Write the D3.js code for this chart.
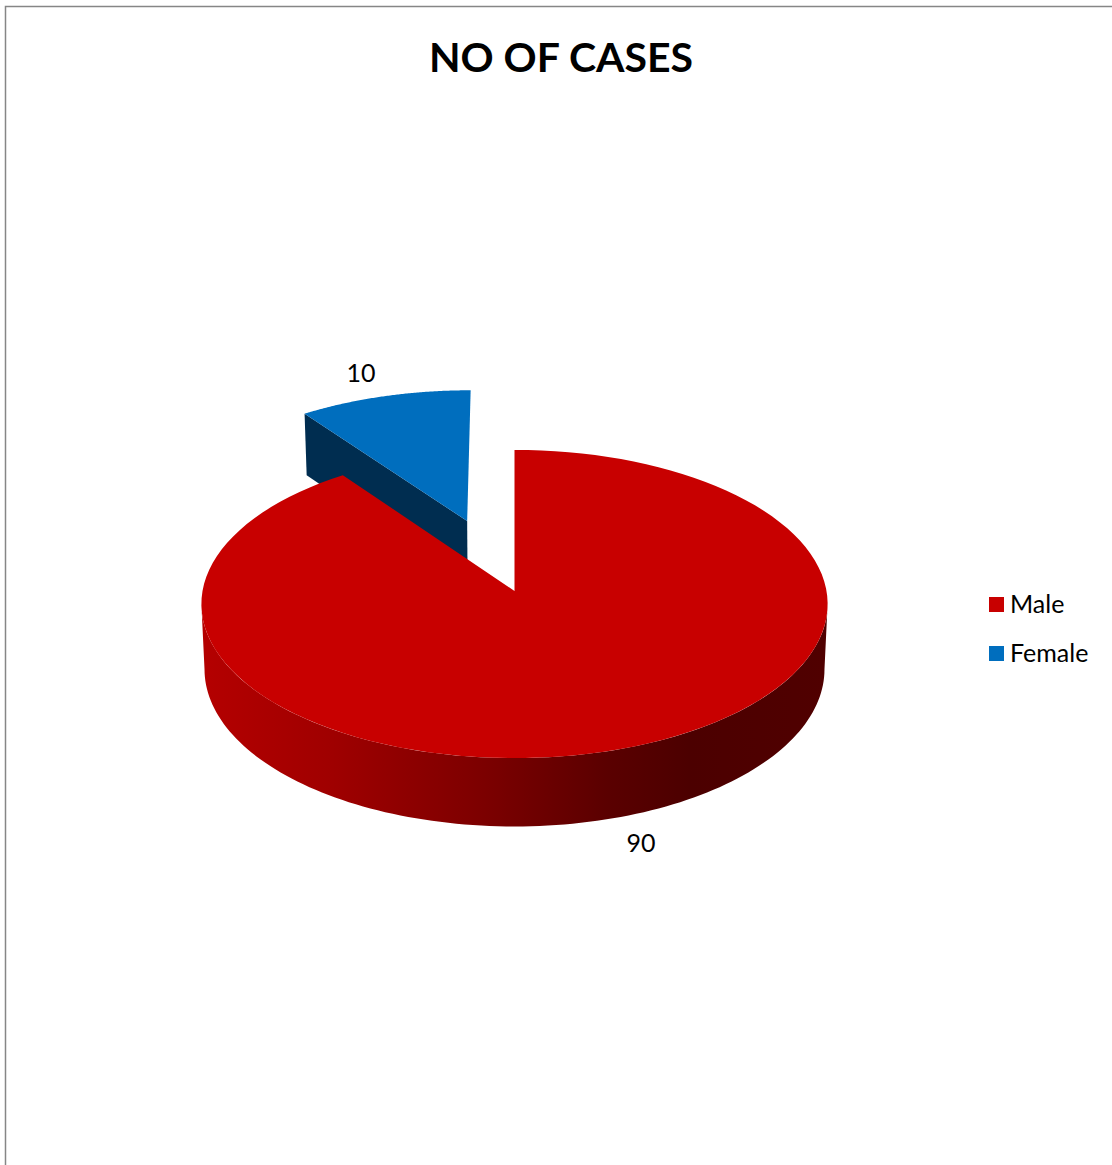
<!DOCTYPE html>
<html>
<head>
<meta charset="utf-8">
<script src="https://cdn.jsdelivr.net/npm/d3@7/dist/d3.min.js"></script>
<style>
html, body { margin: 0; padding: 0; background: #fff; }
svg { display: block; }
text { font-family: Lato, "Open Sans", sans-serif; fill: #000; }
</style>
</head>
<body>
<svg id="chart" width="1112" height="1165"></svg>
<script>
const categories = ["Male", "Female"];
const cases = [90, 10];
const explode = [0, 0.5];
const topColors = ["#c80000", "#006ebe"];
const cutColors = ["#7a0000", "#002d50"];
const chartTitle = "NO OF CASES";

const W = 1112, H = 1165;
const svg = d3.select("#chart");

// Pie apex on screen and the size of the tilted disc
const apex = { x: 514.5, y: 591 };
const radiusX = 312, radiusY = 153, tilt = 0.0845;
// Lower face of the disc relative to the upper one
const drop = 65, lowerScaleX = 0.99, lowerScaleY = 1.02;

// Perspective projection of a ground-plane point; level 0 = top face, 1 = bottom face
function project(u, v, level) {
  const d = 1 - tilt * v;
  const X = u * radiusX / d, Y = v * radiusY / d;
  return level
    ? [apex.x + X * lowerScaleX, apex.y + Y * lowerScaleY + drop]
    : [apex.x + X, apex.y + Y];
}
// Point at angle a and radius r of a slice pushed out by off along its mid angle
function polar(a, r, off, mid, level) {
  const u = r * Math.sin(a) + off * Math.sin(mid);
  const v = -r * Math.cos(a) - off * Math.cos(mid);
  return project(u, v, level);
}

const pie = d3.pie().sort(null).value(d => d)(cases);
const line = d3.line();
const angleSteps = (a0, a1) => d3.range(0, 121).map(i => a0 + (a1 - a0) * i / 120);

const defs = svg.append("defs");
const grad = defs.append("linearGradient")
  .attr("id", "wallShade").attr("gradientUnits", "userSpaceOnUse")
  .attr("x1", 203).attr("x2", 827).attr("y1", 0).attr("y2", 0);
[[0, "#b40000"], [0.2, "#a00000"], [0.45, "#7c0000"], [0.65, "#5a0000"], [0.78, "#4c0000"], [1, "#500000"]]
  .forEach(([o, c]) => grad.append("stop").attr("offset", o).attr("stop-color", c));

// Chart frame: only the top and left edges fall on the page
svg.append("path")
  .attr("d", line([[5.5, H], [5.5, 6.5], [W, 6.5]]))
  .attr("fill", "none").attr("stroke", "#868686").attr("stroke-width", 1.5);

svg.append("text").attr("x", 561).attr("y", 72)
  .attr("text-anchor", "middle").attr("font-size", 41).attr("font-weight", 700)
  .text(chartTitle);

// The exploded Female slice goes first so the Male disc overlaps it
const female = pie[1], fMid = (female.startAngle + female.endAngle) / 2, fOff = explode[1];
const femaleGroup = svg.append("g").attr("transform", "translate(-1,0)");
femaleGroup.append("path")
  .attr("d", line([
    polar(0, 0, fOff, fMid, 0),
    polar(female.startAngle, 1, fOff, fMid, 0),
    polar(female.startAngle, 1, fOff, fMid, 1),
    polar(0, 0, fOff, fMid, 1)
  ]) + "Z")
  .attr("fill", cutColors[1]);
femaleGroup.append("path")
  .attr("d", line([polar(0, 0, fOff, fMid, 0)]
    .concat(angleSteps(female.startAngle, female.endAngle).map(a => polar(a, 1, fOff, fMid, 0)))) + "Z")
  .attr("fill", topColors[1]);

// Male slice: visible outer wall along the front, then the top face
const male = pie[0];
const wallFrom = Math.acos(-tilt), wallTo = 2 * Math.PI - wallFrom;
const wallAngles = angleSteps(wallFrom, wallTo);
svg.append("path")
  .attr("d", line(wallAngles.map(a => polar(a, 1, 0, 0, 0))
    .concat(wallAngles.slice().reverse().map(a => polar(a, 1, 0, 0, 1)))) + "Z")
  .attr("fill", "url(#wallShade)");
svg.append("path")
  .attr("d", line([polar(0, 0, 0, 0, 0)]
    .concat(angleSteps(male.startAngle, male.endAngle).map(a => polar(a, 1, 0, 0, 0)))) + "Z")
  .attr("fill", topColors[0]);

// Value labels
svg.append("text").attr("x", 361).attr("y", 382).attr("text-anchor", "middle")
  .attr("font-size", 25).text(cases[1]);
svg.append("text").attr("x", 641).attr("y", 852).attr("text-anchor", "middle")
  .attr("font-size", 25).text(cases[0]);

// Legend
const legend = svg.selectAll("g.key").data(categories).join("g")
  .attr("class", "key")
  .attr("transform", (d, i) => `translate(989,${597 + i * 49})`);
legend.append("rect").attr("width", 15).attr("height", 15)
  .attr("fill", (d, i) => topColors[i]);
legend.append("text").attr("x", 21).attr("y", 16).attr("font-size", 25).text(d => d);
</script>
</body>
</html>
